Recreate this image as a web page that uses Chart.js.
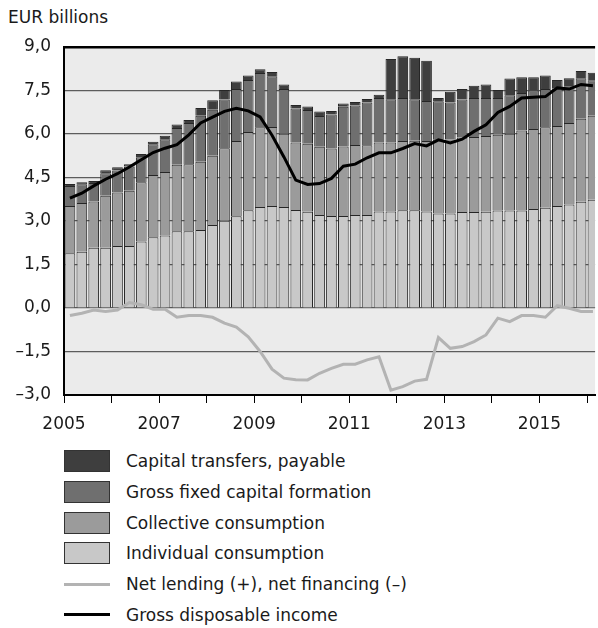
<!DOCTYPE html>
<html>
<head>
<meta charset="utf-8">
<script src="https://cdn.jsdelivr.net/npm/chart.js@4.4.1/dist/chart.umd.min.js"></script>
<style>
  body { margin: 0; width: 598px; height: 628px; background: #fff; overflow: hidden; position: relative;
         font-family: "DejaVu Sans", sans-serif; color: #1a1a1a; }
  #title { position: absolute; left: 8px; top: 7px; font-size: 17px; line-height: 20px; }
  #wrap { position: absolute; left: 0; top: 0; width: 598px; height: 436px; }
  #legend { position: absolute; left: 64px; top: 446px; }
  .item { display: flex; align-items: center; height: 30.7px; font-size: 17px; }
  .sw { width: 46px; height: 22px; box-sizing: border-box; border: 1px solid #333; margin-right: 16px; }
  .ln { width: 46px; height: 3px; margin-right: 16px; }
</style>
</head>
<body>
<div id="title">EUR billions</div>
<div id="wrap"><canvas id="chart"></canvas></div>
<div id="legend"></div>
<script>
// quarterly, 2005 Q1 - 2016 Q1
const firstYear = 2005;
const quarters = [];
for (let y = 2005; y <= 2016; y++) {
    for (let q = 1; q <= 4; q++) {
        if (y === 2016 && q > 1) break;
        quarters.push(y + ' Q' + q);
    }
}

const individual = [1.89, 1.94, 2.08, 2.08, 2.14, 2.14, 2.29, 2.44, 2.50, 2.65, 2.65, 2.69, 2.86, 3.01, 3.16,
    3.37, 3.48, 3.52, 3.48, 3.38, 3.32, 3.21, 3.17, 3.17, 3.21, 3.21, 3.33, 3.33, 3.37, 3.37,
    3.33, 3.26, 3.26, 3.31, 3.31, 3.32, 3.36, 3.36, 3.36, 3.41, 3.46, 3.52, 3.57, 3.66, 3.73];
const collective = [1.63, 1.68, 1.59, 1.79, 1.84, 1.90, 2.05, 2.15, 2.19, 2.29, 2.31, 2.35, 2.39, 2.50, 2.60,
    2.70, 2.75, 2.72, 2.53, 2.33, 2.34, 2.35, 2.33, 2.40, 2.41, 2.40, 2.38, 2.38, 2.39, 2.40,
    2.43, 2.56, 2.55, 2.57, 2.59, 2.61, 2.61, 2.65, 2.76, 2.76, 2.77, 2.76, 2.81, 2.87, 2.90];
const grossCapital = [0.69, 0.65, 0.64, 0.78, 0.76, 0.84, 0.86, 1.06, 1.13, 1.27, 1.42, 1.59, 1.59, 1.68, 1.79,
    1.79, 1.87, 1.75, 1.54, 1.17, 1.17, 1.06, 1.17, 1.37, 1.36, 1.48, 1.53, 1.49, 1.48, 1.43,
    1.38, 1.31, 1.28, 1.31, 1.34, 1.31, 1.27, 1.33, 1.29, 1.33, 1.32, 1.30, 1.27, 1.39, 1.22];
const capTransfers = [0.07, 0.07, 0.07, 0.10, 0.11, 0.08, 0.11, 0.08, 0.12, 0.12, 0.10, 0.27, 0.32, 0.33, 0.26,
    0.16, 0.13, 0.15, 0.16, 0.12, 0.12, 0.16, 0.12, 0.11, 0.12, 0.12, 0.11, 1.39, 1.44, 1.43,
    1.39, 0.11, 0.37, 0.36, 0.42, 0.47, 0.28, 0.57, 0.55, 0.46, 0.47, 0.28, 0.27, 0.25, 0.26];
const netLending = [-0.26, -0.18, -0.07, -0.12, -0.07, 0.19, 0.11, -0.04, -0.04, -0.32, -0.26, -0.26, -0.32, -0.52, -0.66,
    -0.99, -1.50, -2.11, -2.42, -2.47, -2.48, -2.25, -2.08, -1.94, -1.94, -1.79, -1.68, -2.83, -2.71, -2.52,
    -2.46, -1.02, -1.39, -1.33, -1.16, -0.93, -0.35, -0.47, -0.26, -0.26, -0.32, 0.08, -0.01, -0.12, -0.12];
const disposableIncome = [3.79, 3.96, 4.21, 4.44, 4.63, 4.86, 5.11, 5.36, 5.51, 5.63, 5.97, 6.38, 6.58, 6.78, 6.89,
    6.80, 6.59, 5.96, 5.21, 4.41, 4.26, 4.29, 4.47, 4.89, 4.96, 5.18, 5.35, 5.35, 5.50, 5.67,
    5.59, 5.80, 5.69, 5.82, 6.09, 6.32, 6.74, 6.95, 7.24, 7.27, 7.29, 7.59, 7.55, 7.71, 7.66];

const yTicks = [-3, -1.5, 0, 1.5, 3, 4.5, 6, 7.5, 9];
const xTicks = [2005, 2006, 2007, 2008, 2009, 2010, 2011, 2012, 2013, 2014, 2015, 2016];

// quarter i sits in the middle of its quarter on the time axis
function points(values) {
    return values.map((v, i) => ({ x: firstYear + (i + 0.5) / 4, y: v }));
}

function fmt(v) {
    const s = Math.abs(v).toFixed(1).replace('.', ',');
    return v < 0 ? '\u2013' + s : s;
}

const FONT = { family: '"DejaVu Sans", sans-serif', size: 17 };

const plotBackground = {
    id: 'plotBackground',
    beforeDraw(chart) {
        const a = chart.chartArea;
        const ctx = chart.ctx;
        ctx.save();
        ctx.fillStyle = '#ebebeb';
        ctx.fillRect(a.left, a.top, a.right - a.left, a.bottom - a.top);
        ctx.restore();
    }
};

const barStyle = { type: 'bar', order: 2, borderColor: '#262626', borderWidth: 1,
    barPercentage: 1.0, categoryPercentage: 0.9 };

const chart = new Chart(document.getElementById('chart'), {
    type: 'bar',
    data: {
        datasets: [
            Object.assign({ label: 'Individual consumption', data: points(individual), backgroundColor: '#c8c8c8' }, barStyle),
            Object.assign({ label: 'Collective consumption', data: points(collective), backgroundColor: '#9b9b9b' }, barStyle),
            Object.assign({ label: 'Gross fixed capital formation', data: points(grossCapital), backgroundColor: '#6f6f6f' }, barStyle),
            Object.assign({ label: 'Capital transfers, payable', data: points(capTransfers), backgroundColor: '#3e3e3e' }, barStyle),
            { type: 'line', label: 'Net lending (+), net financing (\u2013)', data: points(netLending), stack: 'nl',
              order: 0, borderColor: '#b3b3b3', borderWidth: 3, pointRadius: 0, tension: 0, fill: false },
            { type: 'line', label: 'Gross disposable income', data: points(disposableIncome), stack: 'gdi',
              order: 0, borderColor: '#000', borderWidth: 3, pointRadius: 0, tension: 0, fill: false }
        ]
    },
    options: {
        responsive: true,
        maintainAspectRatio: false,
        animation: false,
        layout: { padding: { top: 47, right: 0, left: 0, bottom: 0 } },
        plugins: { legend: { display: false }, tooltip: { enabled: false } },
        scales: {
            x: {
                type: 'linear',
                stacked: true,
                offset: false,
                min: 2005,
                max: 2016.17,
                afterBuildTicks: scale => { scale.ticks = xTicks.map(v => ({ value: v })); },
                afterFit: scale => { scale.height = 41; },
                grid: { offset: false, drawOnChartArea: false, drawTicks: true, tickLength: 8, color: '#000', lineWidth: 1 },
                border: { color: '#000', width: 2 },
                ticks: { font: FONT, color: '#1a1a1a', padding: 11, maxRotation: 0, autoSkip: false,
                         callback: v => (v % 2 === 1 ? String(v) : '') }
            },
            y: {
                stacked: true,
                min: -3,
                max: 9,
                afterBuildTicks: scale => { scale.ticks = yTicks.map(v => ({ value: v })); },
                afterFit: scale => { scale.width = 64; },
                grid: { drawTicks: false,
                        color: c => (c.tick && c.tick.value === 9 ? '#000' : '#5c5c5c'),
                        lineWidth: c => (c.tick && c.tick.value === 9 ? 2.5 : 1.2) },
                border: { color: '#000', width: 2 },
                ticks: { font: FONT, color: '#1a1a1a', padding: 13, callback: v => fmt(v) }
            }
        }
    },
    plugins: [plotBackground]
});

// legend in the reference order
const legendOrder = [3, 2, 1, 0, 4, 5];
const legend = document.getElementById('legend');
legendOrder.forEach(i => {
    const ds = chart.data.datasets[i];
    const row = document.createElement('div');
    row.className = 'item';
    const mark = document.createElement('span');
    if (ds.type === 'line') {
        mark.className = 'ln';
        mark.style.background = ds.borderColor;
    } else {
        mark.className = 'sw';
        mark.style.background = ds.backgroundColor;
    }
    const text = document.createElement('span');
    text.textContent = ds.label;
    row.appendChild(mark);
    row.appendChild(text);
    legend.appendChild(row);
});
</script>
</body>
</html>
